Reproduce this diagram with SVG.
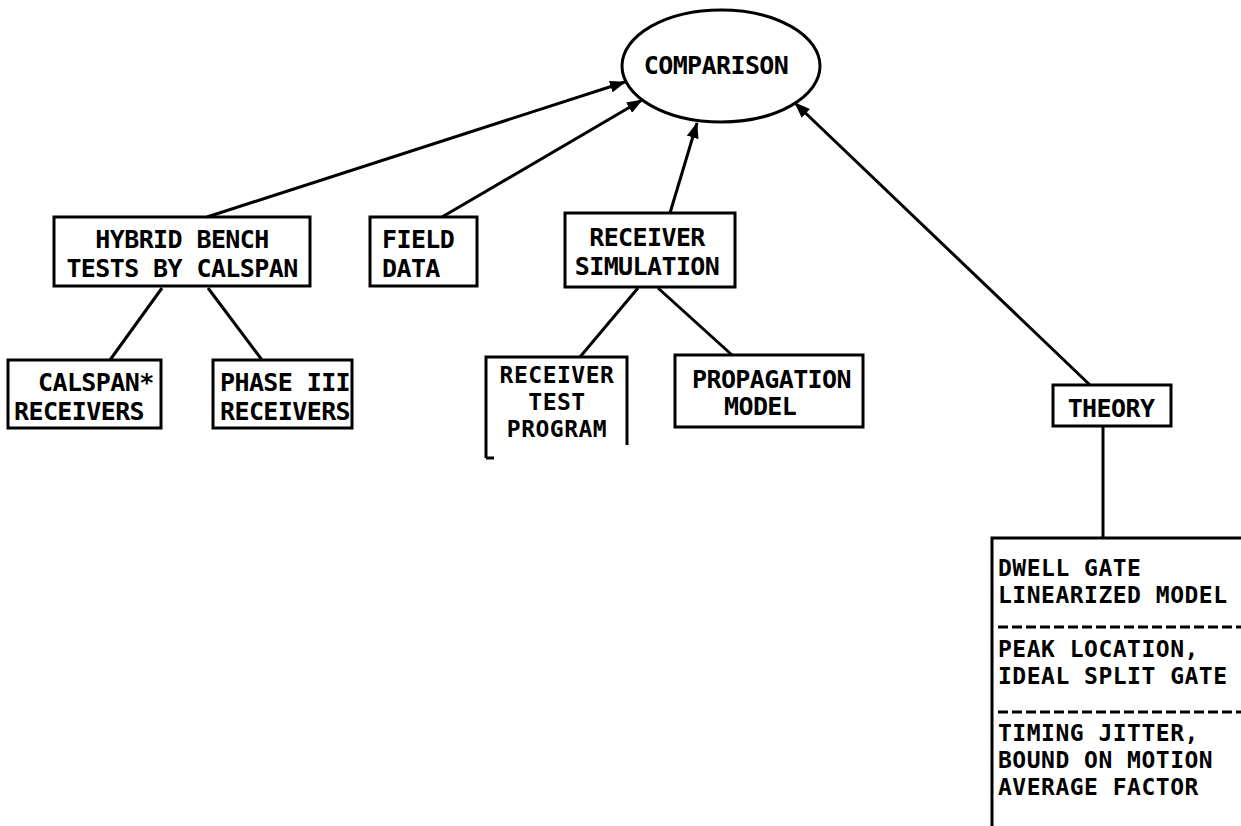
<svg xmlns="http://www.w3.org/2000/svg" width="1241" height="826" viewBox="0 0 1241 826">
<style>
text{font-family:"DejaVu Sans Mono","Liberation Mono",monospace;font-weight:bold;font-size:25px;letter-spacing:-0.6px;fill:#000}
.t{font-size:23px;letter-spacing:0.5px}
.c{text-anchor:middle}
.box{fill:none;stroke:#000;stroke-width:3}
.ln{fill:none;stroke:#000;stroke-width:3}
.dash{stroke:#000;stroke-width:3;stroke-dasharray:10 4}
</style>
<defs>
<marker id="ah" markerUnits="userSpaceOnUse" markerWidth="16" markerHeight="12" refX="15" refY="6" orient="auto">
<path d="M0,0 L16,6 L0,12 z" fill="#000"/>
</marker>
</defs>
<rect width="1241" height="826" fill="#fff"/>
<g id="connectors">
<path class="ln" d="M207,217 L625,82" stroke-width="4" marker-end="url(#ah)"/>
<path class="ln" d="M442,217 L642,100" marker-end="url(#ah)"/>
<path class="ln" d="M670,213 L697,123" marker-end="url(#ah)"/>
<path class="ln" d="M1090,385 L795,103" marker-end="url(#ah)"/>
<path class="ln" d="M162,288 L110,360"/>
<path class="ln" d="M208,288 L262,360"/>
<path class="ln" d="M638,288 L580,357"/>
<path class="ln" d="M658,288 L732,355"/>
<path class="ln" d="M1103,426 L1103,538" stroke-width="2"/>
</g>
<g id="comparison">
<ellipse cx="721" cy="66" rx="99" ry="56" class="box"/>
<text x="716" y="74" class="c">COMPARISON</text>
</g>
<g id="hybrid">
<rect x="54" y="217" width="256" height="69" class="box"/>
<text x="182" y="248" class="c">HYBRID BENCH</text>
<text x="182" y="277" class="c">TESTS BY CALSPAN</text>
</g>
<g id="field">
<rect x="370" y="217" width="107" height="69" class="box"/>
<text x="382" y="248">FIELD</text>
<text x="382" y="277">DATA</text>
</g>
<g id="recsim">
<rect x="565" y="213" width="170" height="74" class="box"/>
<text x="647" y="246" class="c">RECEIVER</text>
<text x="647" y="275" class="c">SIMULATION</text>
</g>
<g id="calspan">
<rect x="8" y="360" width="153" height="68" class="box"/>
<text x="38" y="391">CALSPAN*</text>
<text x="14" y="420">RECEIVERS</text>
</g>
<g id="phase3">
<rect x="213" y="360" width="139" height="68" class="box"/>
<text x="220" y="391">PHASE III</text>
<text x="220" y="420">RECEIVERS</text>
</g>
<g id="rtp">
<path class="box" d="M486,458 L486,357 L627,357 L627,445"/>
<path class="box" d="M486,458 L494,458"/>
<text x="557" y="383" class="c t">RECEIVER</text>
<text x="557" y="410" class="c t">TEST</text>
<text x="557" y="437" class="c t">PROGRAM</text>
</g>
<g id="propagation">
<rect x="675" y="355" width="188" height="72" class="box"/>
<text x="692" y="388">PROPAGATION</text>
<text x="724" y="415">MODEL</text>
</g>
<g id="theory">
<rect x="1053" y="385" width="118" height="41" class="box"/>
<text x="1111" y="417" class="c">THEORY</text>
</g>
<g id="theory-detail">
<path class="box" d="M1241,538 L992,538 L992,826"/>
<text x="998" y="576" class="t">DWELL GATE</text>
<text x="998" y="603" class="t">LINEARIZED MODEL</text>
<line class="dash" x1="998" y1="627" x2="1241" y2="627"/>
<text x="998" y="657" class="t">PEAK LOCATION,</text>
<text x="998" y="684" class="t">IDEAL SPLIT GATE</text>
<line class="dash" x1="998" y1="712" x2="1241" y2="712"/>
<text x="998" y="741" class="t">TIMING JITTER,</text>
<text x="998" y="768" class="t">BOUND ON MOTION</text>
<text x="998" y="795" class="t">AVERAGE FACTOR</text>
</g>
</svg>
